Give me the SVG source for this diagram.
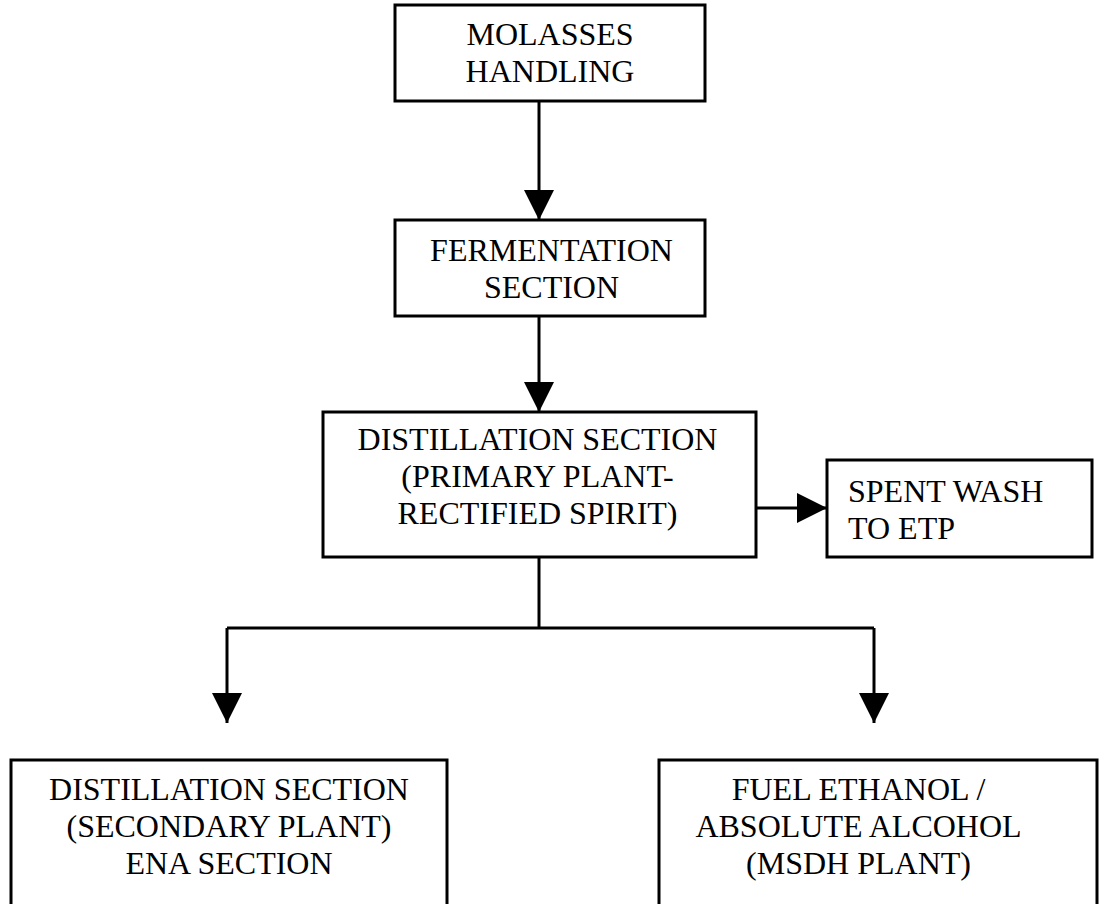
<svg xmlns="http://www.w3.org/2000/svg" width="1104" height="904" viewBox="0 0 1104 904">
<style>
.box{fill:#fff;stroke:#000;stroke-width:3}
.ln{fill:none;stroke:#000;stroke-width:3}
.t{font-family:"Liberation Serif","Times New Roman",serif;font-size:32px;fill:#000}
.c{text-anchor:middle}
</style>
<defs>
<marker id="ah" markerUnits="userSpaceOnUse" markerWidth="30" markerHeight="30" viewBox="0 0 28 28" refX="28" refY="14" orient="auto">
<path d="M0,0 L28,14 L0,28 Z" fill="#000"/>
</marker>
</defs>
<rect width="1104" height="904" fill="#fff"/>
<g id="connectors">
<line class="ln" x1="539" y1="101" x2="539" y2="220" marker-end="url(#ah)"/>
<line class="ln" x1="539" y1="316" x2="539" y2="412" marker-end="url(#ah)"/>
<line class="ln" x1="756" y1="508" x2="827" y2="508" marker-end="url(#ah)"/>
<polyline class="ln" points="539,557 539,628"/>
<polyline class="ln" points="227,628 874,628"/>
<polyline class="ln" points="227,628 227,723" marker-end="url(#ah)"/>
<polyline class="ln" points="874,628 874,723" marker-end="url(#ah)"/>
</g>
<g id="molasses">
<rect class="box" x="395" y="5" width="310" height="96"/>
<text class="t c" x="550" y="45">MOLASSES</text>
<text class="t c" x="550" y="82">HANDLING</text>
</g>
<g id="fermentation">
<rect class="box" x="395" y="220" width="310" height="96"/>
<text class="t c" x="551.5" y="261">FERMENTATION</text>
<text class="t c" x="551.5" y="298">SECTION</text>
</g>
<g id="distillation">
<rect class="box" x="323" y="412" width="433" height="145"/>
<text class="t c" x="537.5" y="450">DISTILLATION SECTION</text>
<text class="t c" x="537.5" y="487">(PRIMARY PLANT-</text>
<text class="t c" x="537.5" y="524">RECTIFIED SPIRIT)</text>
</g>
<g id="spentwash">
<rect class="box" x="827" y="460" width="265" height="97"/>
<text class="t" x="848" y="502">SPENT WASH</text>
<text class="t" x="848" y="539">TO ETP</text>
</g>
<g id="ena">
<rect class="box" x="11" y="760" width="436" height="160"/>
<text class="t c" x="229" y="800">DISTILLATION SECTION</text>
<text class="t c" x="229" y="837">(SECONDARY PLANT)</text>
<text class="t c" x="229" y="874">ENA SECTION</text>
</g>
<g id="fuelethanol">
<rect class="box" x="659" y="760" width="438" height="160"/>
<text class="t c" x="858.5" y="800">FUEL ETHANOL /</text>
<text class="t c" x="858.5" y="837">ABSOLUTE ALCOHOL</text>
<text class="t c" x="858.5" y="874">(MSDH PLANT)</text>
</g>
</svg>
